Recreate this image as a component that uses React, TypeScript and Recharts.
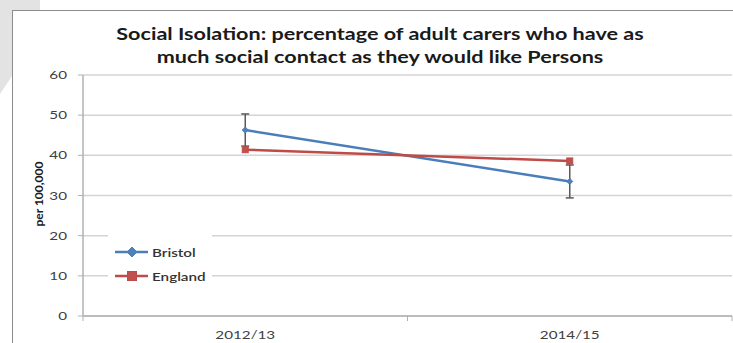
import { LineChart, Line, XAxis, YAxis, CartesianGrid, ErrorBar, Legend } from "recharts";

const categories = ["2012/13", "2014/15"];
const bristolValues = [46.3, 33.5];
const bristolError = [4.0, 4.1];
const englandValues = [41.4, 38.6];
const yTicks = [0, 10, 20, 30, 40, 50, 60];

const data = categories.map((period, i) => ({
  period,
  bristol: bristolValues[i],
  bristolErr: bristolError[i],
  england: englandValues[i],
}));

const BLUE = "#4a7ebb";
const RED = "#be4b48";
const FONT = "Lato, 'Noto Sans', sans-serif";
// the source picture is stretched sideways, so the text is too
const STRETCH = 1.27;

const CHART_W = 721;
const CHART_H = 333;
const Y_AXIS_W = 71;
const PLOT_W = 649;

function Diamond({ cx, cy, r = 6 }: any) {
  if (cx == null || cy == null) return null;
  return (
    <polygon
      points={`${cx},${cy - r} ${cx + r},${cy} ${cx},${cy + r} ${cx - r},${cy}`}
      fill="#4f81bd"
      stroke={BLUE}
      strokeWidth={1}
    />
  );
}

function Square({ cx, cy, r = 5 }: any) {
  if (cx == null || cy == null) return null;
  return <rect x={cx - r} y={cy - r} width={r * 2} height={r * 2} fill="#c0504d" stroke={RED} strokeWidth={1} />;
}

function PeriodTick({ x, y, payload, index }: any) {
  const band = PLOT_W / categories.length;
  return (
    <g>
      <line x1={x - band / 2} y1={y} x2={x - band / 2} y2={y + 5} stroke="#b0b0b0" />
      {index === categories.length - 1 && (
        <line x1={x + band / 2} y1={y} x2={x + band / 2} y2={y + 5} stroke="#b0b0b0" />
      )}
      <text
        x={0}
        y={0}
        transform={`translate(${x},${y + 23}) scale(${STRETCH},1)`}
        textAnchor="middle"
        fontSize={12}
        fill="#404040"
        fontFamily={FONT}
      >
        {payload.value}
      </text>
    </g>
  );
}

function ValueTick({ x, y, payload }: any) {
  return (
    <text
      x={0}
      y={0}
      transform={`translate(${x},${y + 4}) scale(${STRETCH},1)`}
      textAnchor="end"
      fontSize={12}
      fill="#404040"
      fontFamily={FONT}
    >
      {payload.value}
    </text>
  );
}

function LegendBox() {
  const rows = [
    { name: "Bristol", color: BLUE, marker: "diamond" },
    { name: "England", color: RED, marker: "square" },
  ];
  return (
    <div style={{ background: "#fff", width: 104, padding: "5px 0" }}>
      {rows.map((r) => (
        <div key={r.name} style={{ display: "flex", alignItems: "center", height: 24 }}>
          <svg width={44} height={14}>
            <line x1={7} y1={7} x2={40} y2={7} stroke={r.color} strokeWidth={2.5} />
            {r.marker === "diamond" ? <Diamond cx={24} cy={7} r={5} /> : <Square cx={24} cy={7} r={4.5} />}
          </svg>
          <span
            style={{
              fontFamily: FONT,
              fontSize: 12,
              color: "#333",
              fontWeight: 600,
              display: "inline-block",
              transform: `scaleX(${STRETCH})`,
              transformOrigin: "left center",
            }}
          >
            {r.name}
          </span>
        </div>
      ))}
    </div>
  );
}

export default function App() {
  return (
    <div style={{ position: "absolute", left: 0, top: 0, width: 733, height: 343, overflow: "hidden", background: "#fff" }}>
      <svg width={45} height={100} style={{ position: "absolute", left: 0, top: 0 }}>
        <polygon points="0,0 40,0 40,10 12,10 12,76 0,94" fill="#e3e3e3" />
      </svg>
      <div
        style={{
          position: "absolute",
          left: 12,
          top: 10,
          width: 740,
          height: 350,
          borderLeft: "1px solid #8c8c8c",
          borderTop: "1px solid #8c8c8c",
        }}
      />
      <div
        style={{
          position: "absolute",
          left: 80,
          width: 600,
          top: 22,
          textAlign: "center",
          fontFamily: FONT,
          fontWeight: 700,
          fontSize: 17,
          lineHeight: "23px",
          color: "#1a1a1a",
          transform: `scaleX(${STRETCH})`,
          transformOrigin: "300px 0",
        }}
      >
        Social Isolation: percentage of adult carers who have as
        <br />
        much social contact as they would like Persons
      </div>
      <div
        style={{
          position: "absolute",
          left: 38,
          top: 194,
          transform: "translate(-50%, -50%) rotate(-90deg)",
          fontFamily: FONT,
          fontWeight: 700,
          fontSize: 12,
          color: "#1a1a1a",
          whiteSpace: "nowrap",
        }}
      >
        per 100,000
      </div>
      <div style={{ position: "absolute", left: 12, top: 10 }}>
        <LineChart width={CHART_W} height={CHART_H} data={data} margin={{ top: 65, right: 1, left: 0, bottom: 0 }}>
          <CartesianGrid vertical={false} stroke="#d4d4d4" strokeWidth={1.5} />
          <XAxis
            dataKey="period"
            scale="band"
            height={CHART_H - 306}
            tickLine={false}
            tickSize={0}
            tickMargin={0}
            axisLine={{ stroke: "#b0b0b0", strokeWidth: 1.5 }}
            tick={<PeriodTick />}
            interval={0}
          />
          <YAxis
            width={Y_AXIS_W}
            domain={[0, 60]}
            ticks={yTicks}
            tickSize={5}
            tickMargin={11}
            axisLine={{ stroke: "#b0b0b0", strokeWidth: 1.5 }}
            tickLine={{ stroke: "#b0b0b0" }}
            tick={<ValueTick />}
          />
          <Legend
            layout="vertical"
            align="center"
            verticalAlign="middle"
            content={<LegendBox />}
            wrapperStyle={{ position: "absolute", left: 96, top: 225, width: 104 }}
          />
          <Line
            dataKey="bristol"
            name="Bristol"
            stroke={BLUE}
            strokeWidth={2.5}
            dot={<Diamond />}
            isAnimationActive={false}
          >
            <ErrorBar dataKey="bristolErr" width={4} stroke="#595959" strokeWidth={1.5} />
          </Line>
          <Line
            dataKey="england"
            name="England"
            stroke={RED}
            strokeWidth={2.5}
            dot={<Square />}
            isAnimationActive={false}
          />
        </LineChart>
      </div>
    </div>
  );
}
